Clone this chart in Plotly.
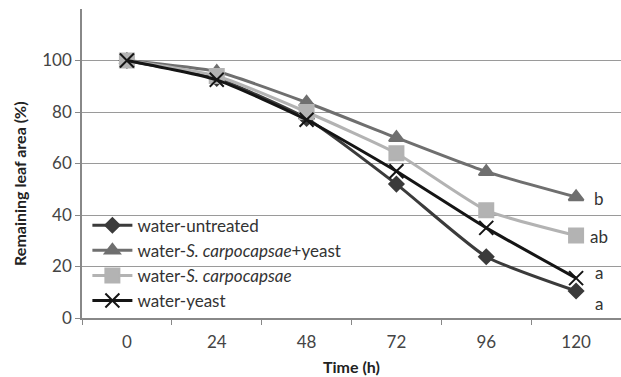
import plotly.graph_objects as go

hours = [0, 24, 48, 72, 96, 120]
tick_labels = ["0", "24", "48", "72", "96", "120"]

series_names = [
    "water-untreated",
    "water-<i>S. carpocapsae</i>+yeast",
    "water-<i>S. carpocapsae</i>",
    "water-yeast",
]
untreated = [100, 93, 77.5, 52, 23.8, 10.5]
sc_yeast = [100, 95.7, 83.7, 70, 56.8, 47]
sc = [100, 94, 80, 64, 41.8, 32]
yeast = [100, 92.5, 77, 57, 35, 15.5]
letters = ["a", "b", "ab", "a"]
letter_y = [5.8, 46.6, 31.5, 17.5]

colors = ["#3b3b3b", "#6f6f6f", "#b3b3b3", "#151515"]
symbols = ["diamond", "triangle-up", "square", "x-thin"]
sizes = [11, 13, 14, 14]
data = [untreated, sc_yeast, sc, yeast]

FONT = "Lato"
fig = go.Figure()
for name, vals, c, s, sz in zip(series_names, data, colors, symbols, sizes):
    fig.add_trace(go.Scatter(
        x=hours, y=vals, name=name, mode="lines+markers",
        line=dict(color=c, width=3, shape="spline", smoothing=0.5),
        marker=dict(symbol=s, size=sz, color=c, line=dict(color=c, width=2)),
    ))

for lt, ly in zip(letters, letter_y):
    fig.add_annotation(x=120, y=ly, xref="x", yref="y", text=lt, showarrow=False,
                       xshift=23, font=dict(family=FONT, size=17, color="#333"))

fig.add_annotation(x=-0.115, y=0.434, xref="paper", yref="paper", xanchor="center", yanchor="middle",
                   text="<b>Remaining leaf area (%)</b>",
                   showarrow=False, textangle=-90, font=dict(family=FONT, size=16, color="#222"))

fig.update_layout(
    width=621, height=377,
    margin=dict(l=82, r=0, t=9, b=59),
    paper_bgcolor="white", plot_bgcolor="white",
    font=dict(family=FONT, size=17, color="#444"),
    showlegend=True,
    legend=dict(x=0.01, y=0.357, xanchor="left", yanchor="top",
                bgcolor="rgba(0,0,0,0)", font=dict(family=FONT, size=17, color="#333"),
                tracegroupgap=0, itemwidth=40),
    xaxis=dict(range=[-12, 132], tickvals=hours, ticktext=tick_labels,
               showgrid=False, zeroline=False, showline=True, linecolor="#888", linewidth=1.5,
               ticks="", ticklabelstandoff=8,
               minor=dict(ticks="outside", tick0=-12, dtick=24, ticklen=5, tickcolor="#888", showgrid=False),
               title=dict(text="<b>Time (h)</b>", font=dict(family=FONT, size=16, color="#222"), standoff=11)),
    yaxis=dict(range=[0, 120], tickvals=[0, 20, 40, 60, 80, 100],
               showgrid=True, gridcolor="#9a9a9a", gridwidth=1.2, zeroline=False,
               showline=True, linecolor="#888", linewidth=1.5,
               ticks="outside", ticklen=5, tickcolor="#888"),
)

fig.write_html("out.html")
